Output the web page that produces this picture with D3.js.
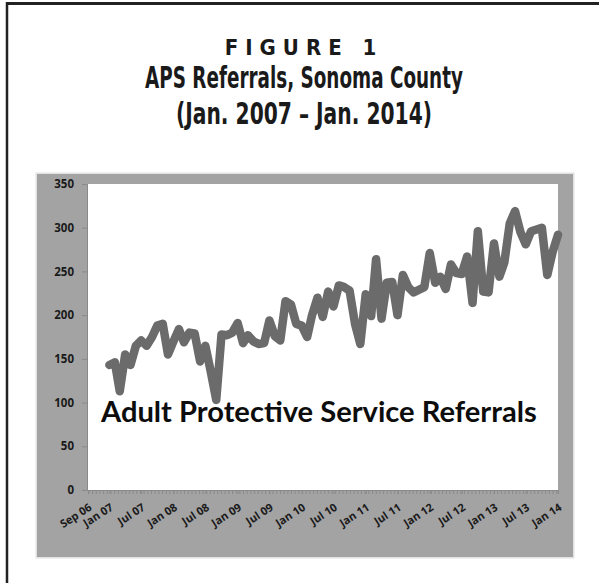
<!DOCTYPE html>
<html><head><meta charset="utf-8">
<script src="https://cdn.jsdelivr.net/npm/d3@7/dist/d3.min.js"></script>
<style>body{margin:0;background:#fff}svg{display:block}</style>
</head><body><svg id="c" width="599" height="583"></svg>
<script>
// ---- data ----
const figureLabel = "FIGURE 1";
const titleMain = "APS Referrals, Sonoma County";
const titleSub = "(Jan. 2007 – Jan. 2014)";
const seriesName = "Adult Protective Service Referrals";
const firstMonth = "2007-01";
const referrals = [
  143,146,113,155,143,165,171,165,175,188,190,155,
  170,184,169,180,179,147,165,135,103,178,177,180,
  191,168,177,170,167,168,194,176,171,216,212,190,
  188,175,200,220,198,227,210,234,232,228,190,167,
  224,199,264,196,237,238,200,246,232,226,229,232,
  271,237,244,230,258,248,247,267,214,296,227,226,
  282,244,260,305,319,295,281,296,298,300,246,272,
  292
];
const yTicks = [0,50,100,150,200,250,300,350];
const xTickLabels = ["Sep 06","Jan 07","Jul 07","Jan 08","Jul 08","Jan 09","Jul 09","Jan 10","Jul 10","Jan 11","Jul 11","Jan 12","Jul 12","Jan 13","Jul 13","Jan 14"];

// ---- drawing ----
const svg = d3.select("#c");
const W = 599, H = 583;
const box = {x0:37, x1:573, y0:174, y1:557};
const plot = {l:88, r:558, t:184, b:490};

// frame
svg.append("line").attr("x1",6).attr("x2",W).attr("y1",3.5).attr("y2",3.5).attr("stroke","#222").attr("stroke-width",3);
svg.append("line").attr("x1",7).attr("x2",7).attr("y1",2).attr("y2",H).attr("stroke","#222").attr("stroke-width",2.5);

// helper: text squeezed horizontally to a target width
function squeezed(txt, x, y, anchor, family, size, width, fill){
  const g = svg.append("g");
  const t = g.append("text").attr("text-anchor",anchor).attr("font-family",family)
    .attr("font-weight","bold").attr("font-size",size).attr("fill",fill).text(txt);
  const nat = t.node().getComputedTextLength();
  const s = Math.min(1, width/nat);
  g.attr("transform",`translate(${x},${y}) scale(${s},1)`);
  return t;
}

// titles
const cx = 304;
const tf = "'Liberation Sans Narrow','DejaVu Sans Condensed',sans-serif";
svg.append("text").attr("x",cx).attr("y",55).attr("text-anchor","middle")
  .attr("font-family",tf).attr("font-weight","bold")
  .attr("font-size",22).attr("letter-spacing","7px").attr("fill","#1a1a1a").text(figureLabel);
squeezed(titleMain, cx, 88, "middle", tf, 31, 318, "#1a1a1a");
squeezed(titleSub, cx, 124, "middle", tf, 31, 256, "#1a1a1a");

// chart background
svg.append("rect").attr("x",box.x0-1.5).attr("y",box.y0-1.5).attr("width",box.x1-box.x0+3).attr("height",box.y1-box.y0+3).attr("fill","#e2e2e2");
svg.append("rect").attr("x",box.x0).attr("y",box.y0).attr("width",box.x1-box.x0).attr("height",box.y1-box.y0).attr("fill","#a3a3a3");
svg.append("rect").attr("x",plot.l).attr("y",plot.t).attr("width",plot.r-plot.l).attr("height",plot.b-plot.t).attr("fill","#fff");

const parseLbl = d3.timeParse("%b %y");
const start = d3.timeParse("%Y-%m")(firstMonth);
const data = referrals.map((v,i)=>({date:d3.timeMonth.offset(start,i), v}));
const labelDates = xTickLabels.map(parseLbl);

const x = d3.scaleTime().domain([labelDates[0], labelDates[labelDates.length-1]]).range([plot.l, plot.r]);
const y = d3.scaleLinear().domain([0,350]).range([plot.b, plot.t]);

// y axis
const yAx = svg.append("g").attr("transform",`translate(${plot.l-1},0)`)
  .call(d3.axisLeft(y).tickValues(yTicks).tickSize(5).tickPadding(8));
yAx.select(".domain").attr("stroke","#8a8a8a");
yAx.selectAll(".tick line").attr("stroke","#8a8a8a");
yAx.selectAll("text").attr("font-family","'Open Sans',sans-serif").attr("font-weight","bold").attr("font-size",11.5).attr("fill","#1a1a1a");

// x axis minor ticks
const minor = d3.timeWeek.every(3).range(labelDates[0], d3.timeDay.offset(labelDates[labelDates.length-1],1));
const xMin = svg.append("g").attr("transform",`translate(0,${plot.b})`)
  .call(d3.axisBottom(x).tickValues(minor).tickSize(4).tickFormat(""));
xMin.select(".domain").attr("stroke","#8a8a8a");
xMin.selectAll(".tick line").attr("stroke","#8a8a8a");

const xAx = svg.append("g").attr("transform",`translate(0,${plot.b})`)
  .call(d3.axisBottom(x).tickValues(labelDates).tickSize(4).tickFormat((d,i)=>xTickLabels[i]));
xAx.select(".domain").remove();
xAx.selectAll(".tick line").attr("stroke","#8a8a8a");
xAx.selectAll("text")
  .attr("font-family","'Open Sans',sans-serif").attr("font-weight","bold").attr("font-size",11).attr("fill","#1a1a1a")
  .attr("text-anchor","end").attr("y",0).attr("dy","0.35em")
  .attr("transform","translate(2,16) rotate(-33)");

// line
const line = d3.line().x(d=>x(d.date)).y(d=>y(d.v));
svg.append("path").datum(data).attr("d",line).attr("fill","none")
  .attr("stroke","#6b6b6b").attr("stroke-width",8.5).attr("stroke-linejoin","round").attr("stroke-linecap","round");

// series annotation
squeezed(seriesName, 101, 422, "start", "Lato,'Open Sans',sans-serif", 29.5, 436, "#0d0d0d");
</script></body></html>
